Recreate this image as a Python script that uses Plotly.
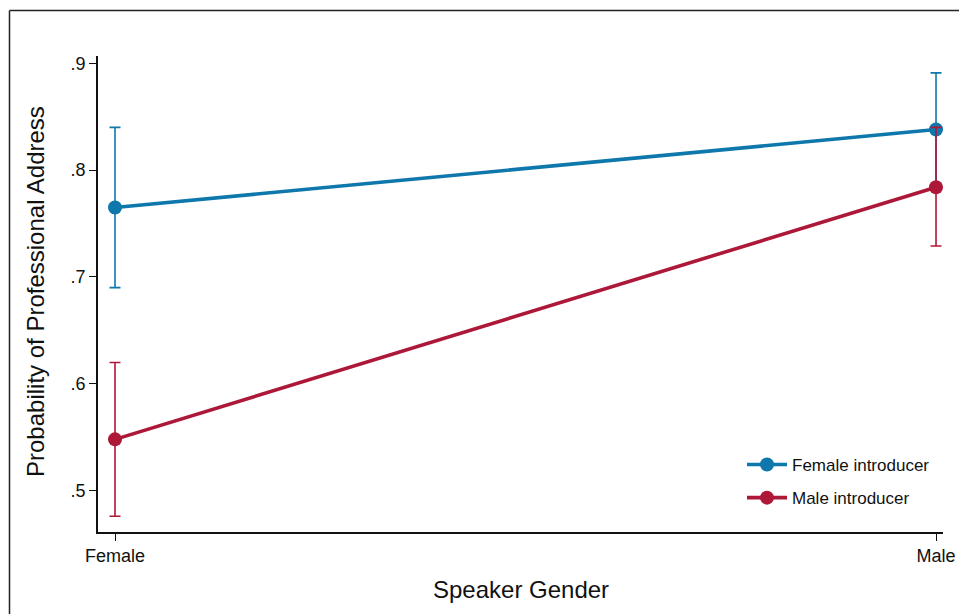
import plotly.graph_objects as go

# Predicted probabilities with 95% confidence limits
speakers = ["Female", "Male"]
female_intro = [0.765, 0.838]
female_intro_hi = [0.840, 0.891]
female_intro_lo = [0.690, 0.786]
male_intro = [0.548, 0.784]
male_intro_hi = [0.620, 0.840]
male_intro_lo = [0.476, 0.729]

y_ticks = [0.5, 0.6, 0.7, 0.8, 0.9]
y_ticktext = [".5", ".6", ".7", ".8", ".9"]

BLUE = "#0E78AC"
RED = "#AE1838"

W, H = 959, 614
L, R, T, B = 98, 16, 56, 82
pw, ph = W - L - R, H - T - B


def px_x(p):
    return (p - L) / pw


def px_y(p):
    return (H - B - p) / ph


def series(name, vals, hi, lo, color, group):
    return go.Scatter(
        x=speakers, y=vals, name=name, mode="lines+markers",
        legendgroup=group,
        line=dict(color=color, width=3.6),
        marker=dict(color=color, size=14),
        error_y=dict(type="data", symmetric=False,
                     array=[h - v for h, v in zip(hi, vals)],
                     arrayminus=[v - l for v, l in zip(vals, lo)],
                     color=color, thickness=1.6, width=5.5),
    )


fig = go.Figure()
fig.add_trace(series("Female introducer", female_intro, female_intro_hi,
                     female_intro_lo, BLUE, "a"))
fig.add_trace(series("Male introducer", male_intro, male_intro_hi,
                     male_intro_lo, RED, "b"))

tick_font = dict(family="Liberation Sans, Arial, sans-serif", size=18, color="#111")
title_font = dict(family="Liberation Sans Narrow, Arial Narrow, Liberation Sans, sans-serif",
                  size=24, color="#111")

fig.update_layout(
    width=W, height=H,
    margin=dict(l=L, r=R, t=T, b=B, pad=0, autoexpand=False),
    paper_bgcolor="white", plot_bgcolor="white",
    showlegend=True,
    legend=dict(x=px_x(742), y=px_y(447), xanchor="left", yanchor="top",
                font=dict(family="Liberation Sans, Arial, sans-serif", size=17, color="#111"),
                bgcolor="rgba(0,0,0,0)", tracegroupgap=8, traceorder="grouped",
                itemwidth=40),
    xaxis=dict(type="category", range=[-0.0207, 1.0085], showgrid=False,
               zeroline=False, showline=True, linecolor="#111", linewidth=1.6,
               ticks="outside", ticklen=7, tickwidth=1.3, tickcolor="#111",
               tickfont=tick_font, automargin=False),
    yaxis=dict(range=[0.4613, 0.9068], tickvals=y_ticks, ticktext=y_ticktext,
               showgrid=False, zeroline=False, showline=True, linecolor="#111",
               linewidth=1.6, ticks="outside", ticklen=7, tickwidth=1.3,
               tickcolor="#111", tickfont=tick_font, automargin=False),
    annotations=[
        dict(text="Speaker Gender", xref="paper", yref="paper",
             x=px_x(521), y=px_y(589), xanchor="center", yanchor="middle",
             showarrow=False, font=title_font),
        dict(text="Probability of Professional Address", xref="paper", yref="paper",
             x=px_x(35), y=px_y(292), xanchor="center", yanchor="middle",
             textangle=-90, showarrow=False, font=title_font),
    ],
    shapes=[
        dict(type="line", xref="paper", yref="paper", x0=px_x(9.5), x1=px_x(962),
             y0=px_y(10.5), y1=px_y(10.5), line=dict(color="#222", width=1.5)),
        dict(type="line", xref="paper", yref="paper", x0=px_x(9.5), x1=px_x(9.5),
             y0=px_y(10.5), y1=px_y(618), line=dict(color="#222", width=1.5)),
    ],
)

fig.write_html("out.html")
